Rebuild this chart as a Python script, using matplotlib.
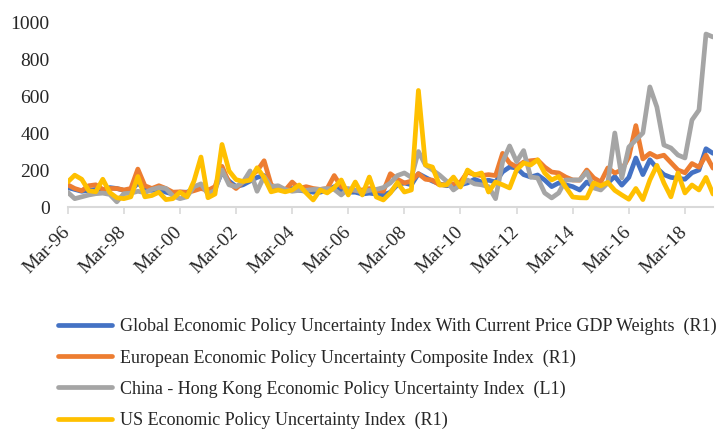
import numpy
import matplotlib
matplotlib.use("Agg")
import matplotlib.pyplot as plt

# quarterly, Mar-96 .. Mar-19
global_epu = [105, 95, 85, 90, 95, 90, 105, 100, 90, 85,
              130, 95, 90, 95, 80, 70, 80, 80, 95, 120,
              90, 100, 190, 140, 110, 120, 140, 160, 170, 110,
              100, 95, 100, 90, 85, 80, 80, 90, 110, 90,
              80, 80, 70, 75, 70, 65, 80, 120, 130, 120,
              180, 160, 140, 125, 115, 120, 120, 130, 150, 135,
              145, 135, 190, 216, 211, 175, 162, 173, 146, 110,
              130, 120, 110, 92, 135, 108, 115, 130, 165, 118,
              160, 265, 175, 255, 210, 175, 160, 155, 150, 185,
              200, 315, 290]
europe_epu = [120, 100, 88, 115, 120, 95, 100, 100, 92, 100,
              205, 115, 100, 115, 100, 80, 82, 78, 88, 100,
              90, 110, 220, 130, 100, 135, 165, 195, 250, 120,
              100, 90, 135, 100, 110, 100, 95, 100, 170, 110,
              95, 90, 92, 100, 90, 85, 180, 150, 130, 140,
              180, 150, 145, 120, 120, 125, 135, 189, 175, 170,
              175, 170, 290, 238, 216, 243, 250, 254, 216, 189,
              184, 162, 146, 145, 200, 157, 135, 211, 184, 200,
              270, 440, 260, 290, 270, 280, 240, 200, 185, 235,
              215, 280, 210]
china_hk_epu = [80, 45, 55, 65, 72, 75, 68, 28, 72, 75,
                85, 78, 95, 105, 100, 60, 45, 55, 110, 125,
                70, 90, 200, 120, 110, 135, 195, 85, 165, 110,
                115, 95, 85, 90, 90, 95, 95, 100, 95, 65,
                100, 90, 80, 90, 95, 105, 130, 170, 184, 160,
                300, 227, 200, 173, 140, 92, 120, 146, 125, 120,
                110, 45, 243, 330, 245, 305, 162, 157, 76, 49,
                76, 146, 146, 146, 189, 103, 92, 130, 400, 157,
                324, 362, 400, 649, 540, 335, 319, 281, 265, 470,
                524, 935, 919]
us_epu = [135, 172, 150, 88, 82, 150, 78, 50, 45, 55,
          165, 55, 62, 80, 40, 45, 80, 55, 140, 270,
          50, 70, 338, 195, 148, 138, 145, 212, 160, 82,
          92, 82, 92, 119, 76, 38, 92, 76, 105, 146,
          65, 135, 65, 162, 54, 38, 76, 132, 81, 92,
          630, 227, 216, 119, 119, 162, 108, 200, 173, 184,
          81, 135, 120, 103, 200, 238, 227, 255, 184, 146,
          165, 108, 54, 50, 49, 130, 114, 133, 90, 65,
          42, 100, 40, 146, 225, 130, 55, 184, 76, 119,
          92, 160, 70]

tick_labels = ["Mar-96", "Mar-98", "Mar-00", "Mar-02", "Mar-04", "Mar-06",
               "Mar-08", "Mar-10", "Mar-12", "Mar-14", "Mar-16", "Mar-18"]
series_names = ["Global Economic Policy Uncertainty Index With Current Price GDP Weights  (R1)",
                "European Economic Policy Uncertainty Composite Index  (R1)",
                "China - Hong Kong Economic Policy Uncertainty Index  (L1)",
                "US Economic Policy Uncertainty Index  (R1)"]
colors = ["#4472C4", "#ED7D31", "#A5A5A5", "#FFC000"]

plt.rcParams["font.family"] = ["Liberation Serif", "DejaVu Serif"]
tick_size = 14
leg_size = 13

fig = plt.figure(figsize=(7.23, 4.32), dpi=100)
ax = fig.add_axes([67.7/723, 1-207/432, (713-67.7)/723, (207-22)/432])

x = numpy.arange(len(us_epu))
for vals, name, c in zip([global_epu, europe_epu, china_hk_epu, us_epu], series_names, colors):
    ax.plot(x, vals, color=c, linewidth=3.4, label=name, solid_joinstyle="round", solid_capstyle="round")

ax.set_xlim(0, len(us_epu)-1)
ax.set_ylim(0, 1000)
ax.set_yticks(range(0, 1001, 200))
ax.set_xticks(range(0, 8*len(tick_labels), 8))
ax.set_xticklabels(tick_labels, rotation=45, ha="right", va="center", rotation_mode="anchor",
                   fontsize=tick_size, color="#262626")
ax.tick_params(axis="y", length=0, pad=13, labelsize=tick_size, labelcolor="#262626")
ax.tick_params(axis="x", length=5, width=1.2, color="#D9D9D9", direction="out", pad=11)
for s in ["left", "right", "top"]:
    ax.spines[s].set_visible(False)
ax.spines["bottom"].set_color("#D9D9D9")
ax.spines["bottom"].set_linewidth(1.5)

leg = fig.legend(loc="upper left", bbox_to_anchor=(58/723, 1-318/432), frameon=False,
                 fontsize=leg_size, handlelength=3.0, handletextpad=0.45, labelspacing=0.77,
                 borderpad=0, borderaxespad=0)
for t in leg.get_texts():
    t.set_color("#262626")
for h in leg.get_lines():
    h.set_linewidth(3.4)

fig.savefig("out.png", dpi=100)
